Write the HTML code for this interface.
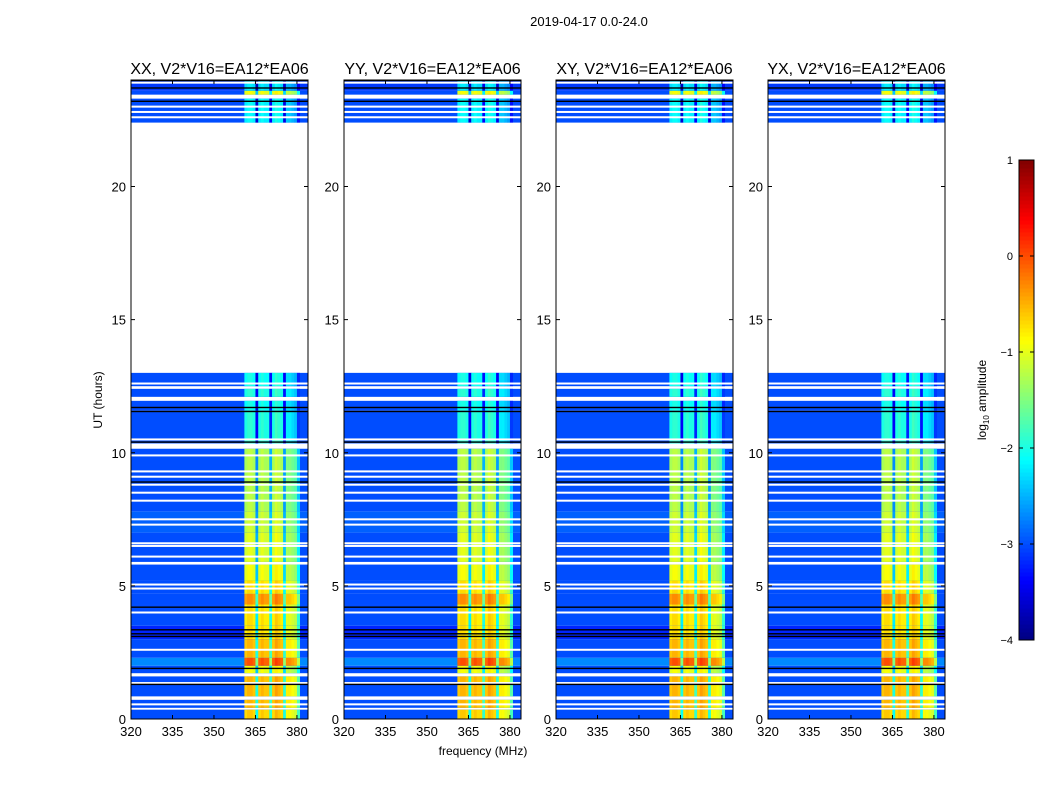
<!DOCTYPE html>
<html><head><meta charset="utf-8"><style>
body{margin:0;background:#fff;width:1050px;height:800px;overflow:hidden;font-family:"Liberation Sans",sans-serif}
svg text{font-family:"Liberation Sans",sans-serif}
</style></head><body>
<svg id="fig" width="1050" height="800" xmlns="http://www.w3.org/2000/svg">
<text x="589" y="26" font-size="13" text-anchor="middle">2019-04-17 0.0-24.0</text>
<text x="483" y="755" font-size="12" text-anchor="middle">frequency (MHz)</text>
<text transform="translate(102,400) rotate(-90)" font-size="12" text-anchor="middle">UT (hours)</text>
<g id="panels"></g>
<g id="cbar"></g>
</svg>
<script>
// ---- data ----
const panelTitles = ["XX, V2*V16=EA12*EA06","YY, V2*V16=EA12*EA06","XY, V2*V16=EA12*EA06","YX, V2*V16=EA12*EA06"];
const panelRfiShift = [0, 0, 0, 0];
const xTicks = [320,335,350,365,380];
const yTicks = [0,5,10,15,20];
const cbTicks = [1,0,-1,-2,-3,-4];
// time blocks: start hr, end hr, background log amp, rfi log amp (null = flagged)
const blockStart = [0,0.35,0.42,0.72,0.85,1.6,1.72,2.0,2.3,3.0,3.5,4.3,4.7,5.2,5.8,5.9,7.0,7.8,8.6,10.15,10.35,11.6,11.95,12.1,12.4,12.5,13.0,22.4,23.3,23.45,23.6];
const blockEnd   = [0.35,0.42,0.72,0.85,1.6,1.72,2.0,2.3,3.0,3.5,4.3,4.7,5.2,5.8,5.9,7.0,7.8,8.6,10.15,10.35,11.6,11.95,12.1,12.4,12.5,13.0,22.4,23.3,23.45,23.6,24.0];
const blockBg    = [-3.0,null,-3.0,null,-3.0,null,-3.0,-2.7,-3.0,-3.2,-3.0,-3.0,-3.0,-3.0,null,-3.0,-2.9,-3.0,-3.0,null,-3.0,-3.0,null,-3.0,null,-3.0,null,-3.0,null,-3.0,-3.1];
const blockRfi   = [-0.7,null,-0.6,null,-0.6,null,-1.0,-0.1,-0.6,-0.8,-0.8,-0.4,-0.8,-1.0,null,-1.1,-1.2,-1.3,-1.3,null,-2.0,-2.1,null,-2.0,null,-2.1,null,-2.2,null,-1.0,-2.3];
const whiteLines = [0.55,1.35,2.6,4.0,4.9,5.05,6.1,6.5,6.6,7.3,7.5,8.2,8.5,8.8,9.1,9.3,9.9,10.5,12.6,22.6,22.8,23.0,23.9];
const blackLines = [1.3,1.9,3.1,3.2,3.35,4.2,8.9,10.4,11.55,11.7,23.2,23.7,23.98];
// RFI channels (1 MHz) from 361 to 381 and their offsets
const rfiChanStart = [361,362,363,364,365,366,367,368,369,370,371,372,373,374,375,376,377,378,379,380];
const rfiChanGain  = [0,0.1,0.1,0,-1.4,0,0.1,0,0,-1.2,0,0.2,0.1,0,-1.3,-0.2,-0.2,-0.3,-0.4,-1.1];

// ---- scales ----
const W=177, Y0=80, Y1=719, F0=320, F1=384;
const panelX=[131,344,556,768];
const xs=(x0,f)=>x0+(f-F0)/(F1-F0)*W;
const ys=t=>Y1-t/24*(Y1-Y0);
function jet(v){let n=Math.max(0,Math.min(1,(v+4)/5));
 const c=x=>Math.round(255*Math.max(0,Math.min(1,1.5-Math.abs(4*n-x))));
 return `rgb(${c(3)},${c(2)},${c(1)})`;}
const NS="http://www.w3.org/2000/svg";
function mk(tag,attrs,parent){const e=document.createElementNS(NS,tag);for(const k in attrs)e.setAttribute(k,attrs[k]);parent.appendChild(e);return e;}

const panels=document.getElementById('panels');
panelX.forEach((x0,p)=>{
 const g=mk('g',{},panels);
 
 
 const t=mk('text',{x:x0+W/2,y:74,'font-size':16,'text-anchor':'middle'},g);t.textContent=panelTitles[p];
 
 
 blockStart.forEach((s,i)=>{
  if(blockBg[i]===null)return;
  const yT=ys(blockEnd[i]), yB=ys(s);
  const r=mk('rect',{x:x0,y:yT,width:W,height:yB-yT,fill:jet(blockBg[i])},g);
  
  
  rfiChanStart.forEach((f,c)=>{
   const fs=f+panelRfiShift[p];
   const cr=mk('rect',{x:xs(x0,fs),y:yT,width:xs(x0,fs+1)-xs(x0,fs)+0.3,height:yB-yT,fill:jet(blockRfi[i]+rfiChanGain[c])},g);
   
   
  });
 });
 whiteLines.forEach(h=>{const l=mk('rect',{x:x0,y:ys(h)-1,width:W,height:2,fill:'#fff'},g);
  
  });
 blackLines.forEach(h=>{const l=mk('rect',{x:x0,y:ys(h)-0.7,width:W,height:1.4,fill:'#000'},g);
  
  });
 const fr=mk('rect',{x:x0,y:Y0,width:W,height:Y1-Y0,fill:'none',stroke:'#000','stroke-width':1},g);
 
 
 xTicks.forEach(f=>{const x=xs(x0,f);
  mk('line',{x1:x,x2:x,y1:Y1,y2:Y1-4,stroke:'#000'},g);mk('line',{x1:x,x2:x,y1:Y0,y2:Y0+4,stroke:'#000'},g);
  const tx=mk('text',{x:x,y:Y1+17,'font-size':13,'text-anchor':'middle'},g);tx.textContent=f;
  
  });
 yTicks.forEach(h=>{const y=ys(h);
  mk('line',{x1:x0,x2:x0+4,y1:y,y2:y,stroke:'#000'},g);mk('line',{x1:x0+W,x2:x0+W-4,y1:y,y2:y,stroke:'#000'},g);
  const tx=mk('text',{x:x0-5,y:y+5,'font-size':13,'text-anchor':'end'},g);tx.textContent=h;
  
  });
});

// colorbar
const cb=document.getElementById('cbar');
const CX=1019,CW=15,CT=160,CB=640;
for(let i=0;i<120;i++){const v=-4+5*i/120;
 const y=CB-(i+1)*(CB-CT)/120;
 mk('rect',{x:CX,y:y,width:CW,height:(CB-CT)/120+0.5,fill:jet(v+5/240)},cb);}
const cf=mk('rect',{x:CX,y:CT,width:CW,height:CB-CT,fill:'none',stroke:'#000'},cb);


cbTicks.forEach(v=>{const y=CB-(v+4)/5*(CB-CT);
 mk('line',{x1:CX,x2:CX+4,y1:y,y2:y,stroke:'#000'},cb);mk('line',{x1:CX+CW,x2:CX+CW-4,y1:y,y2:y,stroke:'#000'},cb);
 const tx=mk('text',{x:CX-6,y:y+4,'font-size':11,'text-anchor':'end'},cb);tx.textContent=(v<0?'\u2212':'')+Math.abs(v);
 
 });
const ct=mk('text',{transform:'translate(986,400) rotate(-90)','font-size':12,'text-anchor':'middle'},cb);
ct.innerHTML='log<tspan font-size="8" dy="3">10</tspan><tspan dy="-3"> amplitude</tspan>';


</script>
</body></html>
